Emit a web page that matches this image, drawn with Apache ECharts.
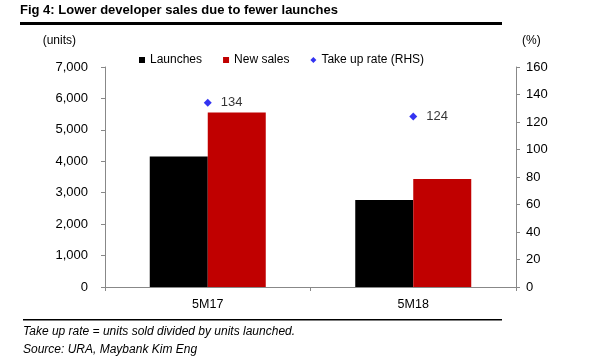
<!DOCTYPE html>
<html><head><meta charset="utf-8">
<script src="https://cdn.jsdelivr.net/npm/echarts@6/dist/echarts.min.js"></script>
<style>html,body{margin:0;padding:0;background:#fff}#c{width:600px;height:360px}</style>
</head><body><div id="c"></div>
<script>
const categories = ['5M17', '5M18'];
const launches = [4150, 2770];
const newSales = [5550, 3440];
const takeUpRate = [134, 124];
const leftTicks = [0, 7000, 1000];
const rightTicks = [0, 160, 20];

const FONT = 'Liberation Sans';
const chart = echarts.init(document.getElementById('c'), null, {renderer: 'canvas'});
chart.setOption({
  animation: false,
  backgroundColor: '#fff',
  textStyle: {fontFamily: FONT, color: '#000'},
  grid: {left: 105, right: 84, top: 67, bottom: 73},
  legend: {
    top: 49, left: 134, itemGap: 21, itemWidth: 6, itemHeight: 6,
    textStyle: {fontFamily: FONT, fontSize: 12, color: '#000'},
    data: [
      {name: 'Launches', icon: 'rect'},
      {name: 'New sales', icon: 'rect'},
      {name: 'Take up rate (RHS)', icon: 'diamond'}
    ]
  },
  xAxis: {
    type: 'category', data: categories, boundaryGap: true,
    axisLine: {lineStyle: {color: '#888', width: 1}},
    axisTick: {show: true, length: 4, lineStyle: {color: '#888'}},
    axisLabel: {fontFamily: FONT, fontSize: 12.5, color: '#000', margin: 11}
  },
  yAxis: [
    {
      type: 'value', min: leftTicks[0], max: leftTicks[1], interval: leftTicks[2],
      name: '(units)', nameLocation: 'end', nameGap: 20,
      nameTextStyle: {fontFamily: FONT, fontSize: 12, color: '#000', align: 'right', padding: [0, 29, 0, 0]},
      axisLine: {show: true, lineStyle: {color: '#888'}},
      axisTick: {show: true, length: 4, lineStyle: {color: '#888'}},
      splitLine: {show: false},
      axisLabel: {fontFamily: FONT, fontSize: 13, color: '#000', margin: 17,
        formatter: v => v.toLocaleString('en-US')}
    },
    {
      type: 'value', min: rightTicks[0], max: rightTicks[1], interval: rightTicks[2],
      name: '(%)', nameLocation: 'end', nameGap: 20,
      nameTextStyle: {fontFamily: FONT, fontSize: 12, color: '#000', align: 'left', padding: [0, 0, 0, 6]},
      axisLine: {show: true, lineStyle: {color: '#888'}},
      axisTick: {show: true, length: 4, lineStyle: {color: '#888'}},
      splitLine: {show: false},
      axisLabel: {fontFamily: FONT, fontSize: 13, color: '#000', margin: 10}
    }
  ],
  series: [
    {name: 'Launches', type: 'bar', data: launches, barWidth: 58, barGap: '0%',
      itemStyle: {color: '#000000'}},
    {name: 'New sales', type: 'bar', data: newSales, barWidth: 58,
      itemStyle: {color: '#C00000'}},
    {name: 'Take up rate (RHS)', type: 'scatter', yAxisIndex: 1, data: takeUpRate,
      symbol: 'diamond', symbolSize: 8, itemStyle: {color: '#0000EE'},
      label: {show: true, position: 'right', distance: 9, fontFamily: FONT, fontSize: 13, color: '#000'}}
  ],
  graphic: [
    {type: 'text', left: 20, top: 4, style: {text: 'Fig 4: Lower developer sales due to fewer launches',
      fontFamily: FONT, fontWeight: 'bold', fontSize: 13, fill: '#000'}},
    {type: 'rect', shape: {x: 20, y: 22, width: 482, height: 3}, style: {fill: '#000'}},
    {type: 'rect', shape: {x: 23, y: 319, width: 479, height: 1.5}, style: {fill: '#000'}},
    {type: 'text', left: 23, top: 326, style: {text: 'Take up rate = units sold divided by units launched.',
      fontFamily: FONT, fontStyle: 'italic', fontSize: 12, fill: '#000'}},
    {type: 'text', left: 23, top: 344, style: {text: 'Source: URA, Maybank Kim Eng',
      fontFamily: FONT, fontStyle: 'italic', fontSize: 12, fill: '#000'}}
  ]
});
</script></body></html>
